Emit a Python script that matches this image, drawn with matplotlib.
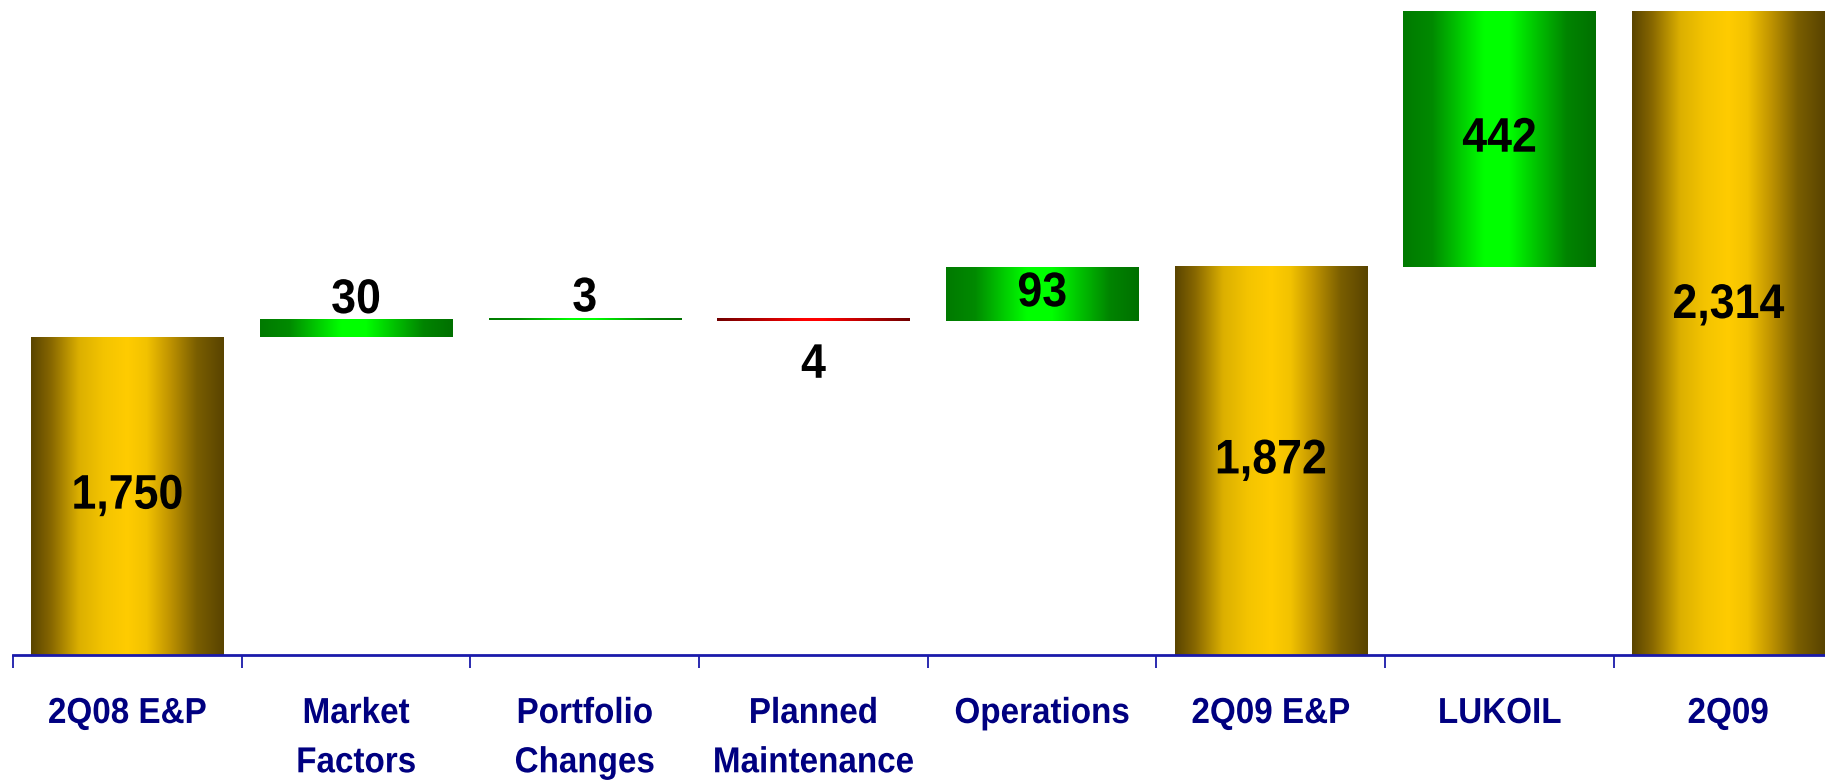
import matplotlib
matplotlib.use("Agg")
import matplotlib.pyplot as plt
import numpy as np
from matplotlib.colors import LinearSegmentedColormap
from matplotlib.patheffects import AbstractPathEffect
from matplotlib.transforms import Affine2D

# ---- data ----
categories = ["2Q08 E&P", "Market\nFactors", "Portfolio\nChanges", "Planned\nMaintenance",
              "Operations", "2Q09 E&P", "LUKOIL", "2Q09"]
values = [1750, 30, 3, -4, 93, 1872, 442, 2314]
is_total = [True, False, False, False, False, True, False, True]
value_labels = ["1,750", "30", "3", "4", "93", "1,872", "442", "2,314"]

# ---- gradients ----
gold = LinearSegmentedColormap.from_list("gold", [
    (0.00, "#5a4500"), (0.10, "#866600"), (0.25, "#dcb000"), (0.38, "#f4c400"),
    (0.50, "#ffcc00"), (0.60, "#f2c200"), (0.72, "#c09400"), (0.86, "#7a5e00"),
    (1.00, "#594400")])
green = LinearSegmentedColormap.from_list("green", [
    (0.00, "#007a00"), (0.15, "#008a00"), (0.30, "#00cc00"), (0.42, "#00ff00"),
    (0.55, "#00ff00"), (0.70, "#00c000"), (0.85, "#008400"), (1.00, "#007000")])
red = LinearSegmentedColormap.from_list("red", [
    (0.00, "#700000"), (0.45, "#ff0000"), (0.55, "#ff0000"), (1.00, "#700000")])


class Condense(AbstractPathEffect):
    """Squeeze glyphs horizontally around each line's centre (narrow-font look)."""

    def __init__(self, sx):
        super().__init__()
        self.sx = sx

    def draw_path(self, renderer, gc, tpath, affine, rgbFace=None):
        ext = tpath.get_extents()
        cx = (ext.x0 + ext.x1) / 2
        t = Affine2D().translate(-cx, 0).scale(self.sx, 1).translate(cx, 0) + affine
        renderer.draw_path(gc, tpath, t, rgbFace)


plt.rcParams["font.family"] = ["Liberation Sans", "DejaVu Sans"]
plt.rcParams["font.weight"] = "bold"

W, H, DPI = 1825, 781, 100
fig = plt.figure(figsize=(W / DPI, H / DPI), dpi=DPI)
ax = fig.add_axes([13 / W, 126 / H, 8 * 228.7 / W, 655 / H])
ax.set_xlim(-0.5, len(categories) - 0.5)
ax.set_ylim(1200, 2334)
y_floor = ax.get_ylim()[0]

# waterfall bottoms
bottoms = []
running = 0
for v, tot in zip(values, is_total):
    if tot:
        bottoms.append(0)
        running = v
    else:
        bottoms.append(running)
        running += v

x = np.arange(len(categories))
bars = ax.bar(x, values, bottom=bottoms, width=0.84, facecolor="none", edgecolor="none")

grad = np.linspace(0, 1, 256).reshape(1, -1)
for bar, v, tot in zip(bars, values, is_total):
    cmap = gold if tot else (green if v > 0 else red)
    bb = bar.get_bbox()
    ax.imshow(grad, cmap=cmap, aspect="auto", interpolation="bilinear",
              extent=[bb.xmin, bb.xmax, bb.ymin, bb.ymax], zorder=1)
ax.set_xlim(-0.5, len(categories) - 0.5)
ax.set_ylim(1200, 2334)

# value labels
val_fx = [Condense(0.92)]
for i, (bar, v, tot, lab) in enumerate(zip(bars, values, is_total, value_labels)):
    bb = bar.get_bbox()
    cx = (bb.xmin + bb.xmax) / 2
    kw = dict(textcoords="offset points", ha="center", fontsize=35,
              fontweight="bold", color="black", path_effects=val_fx)
    if tot or abs(v) > 50:
        cy = (max(bb.ymin, y_floor) + bb.ymax) / 2
        dy = 20 if i == len(values) - 1 else 0
        ax.annotate(lab, (cx, cy), xytext=(0, dy), va="center", **kw)
    elif v > 0:
        ax.annotate(lab, (cx, bb.ymax), xytext=(0, 5), va="baseline", **kw)
    else:
        ax.annotate(lab, (cx, bb.ymin), xytext=(0, -16), va="top", **kw)

for s in ["top", "left", "right"]:
    ax.spines[s].set_visible(False)
ax.spines["bottom"].set_color("#1a1aaa")
ax.spines["bottom"].set_linewidth(2)
ax.set_yticks([])

ax.set_xticks(x)
ax.set_xticklabels(categories, fontsize=26, fontweight="bold", color="#000080",
                   linespacing=1.53, path_effects=[Condense(0.92)])
ax.set_xticks(np.arange(-0.5, len(categories)), minor=True)
ax.tick_params(axis="x", which="major", length=0, pad=29.5)
ax.tick_params(axis="x", which="minor", length=9.5, width=1.3, color="#1a1aaa", direction="out")

fig.savefig("out.png", dpi=DPI)
